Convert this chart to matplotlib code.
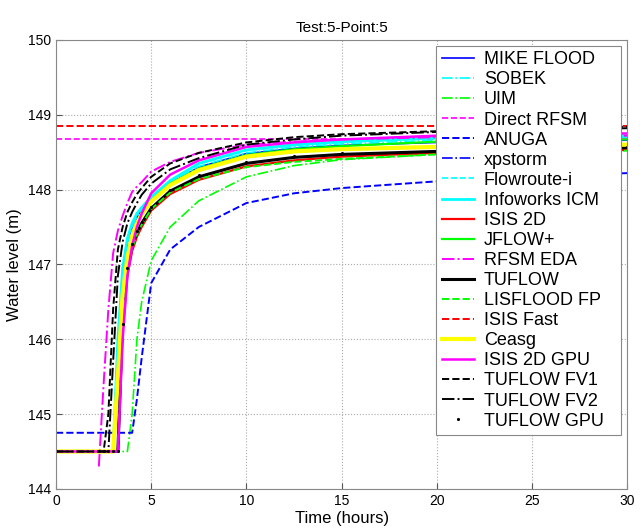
import numpy as np
import matplotlib
matplotlib.use('Agg')
import matplotlib.pyplot as plt

plt.rcParams['font.family'] = ['Liberation Sans', 'DejaVu Sans']

nan = np.nan

# Tempo comum (horas) em que as series foram lidas
t = [0, 2.25, 2.5, 2.75, 3.0, 3.25, 3.5, 3.75, 4.0, 4.25, 4.5, 5, 6, 7.5, 10, 12.5, 15, 20, 25, 30]

mike_flood = [144.5, 144.5, 144.5, 144.5, 144.5, 145.9, 146.85, 147.3, 147.5, 147.63, 147.72, 147.87, 148.08, 148.3, 148.48, 148.55, 148.59, 148.63, 148.65, 148.66]
sobek = [144.5, 144.5, 144.5, 144.5, 144.5, 145.9, 146.9, 147.3, 147.5, 147.64, 147.73, 147.88, 148.1, 148.31, 148.49, 148.57, 148.61, 148.66, 148.68, 148.7]
uim = [144.5, 144.5, 144.5, 144.5, 144.5, 144.5, 144.5, 144.5, 145.0, 146.0, 146.5, 147.05, 147.5, 147.85, 148.17, 148.32, 148.4, 148.47, 148.5, 148.52]
direct_rfsm = [148.67] * 20
anuga = [144.75, 144.75, 144.75, 144.75, 144.75, 144.75, 144.75, 144.75, 144.75, 145.2, 145.75, 146.75, 147.2, 147.5, 147.82, 147.95, 148.02, 148.11, 148.17, 148.22]
xpstorm = [144.5, 144.5, 144.5, 144.5, 144.5, 145.6, 146.7, 147.15, 147.42, 147.58, 147.69, 147.85, 148.06, 148.26, 148.43, 148.5, 148.54, 148.58, 148.6, 148.61]
flowroute = [144.5, 144.5, 144.5, 144.5, 144.5, 146.0, 146.95, 147.33, 147.54, 147.67, 147.75, 147.9, 148.11, 148.34, 148.52, 148.59, 148.63, 148.68, 148.7, 148.71]
infoworks = [144.5, 144.5, 144.5, 144.5, 144.5, 146.0, 146.95, 147.35, 147.55, 147.68, 147.76, 147.9, 148.12, 148.35, 148.53, 148.6, 148.64, 148.69, 148.71, 148.72]
isis_2d = [144.5, 144.5, 144.5, 144.5, 144.5, 144.5, 146.1, 146.85, 147.18, 147.37, 147.5, 147.72, 147.94, 148.13, 148.31, 148.39, 148.44, 148.49, 148.51, 148.53]
jflow = [144.5, 144.5, 144.5, 144.5, 144.5, 145.4, 146.5, 147.05, 147.35, 147.53, 147.66, 147.85, 148.08, 148.28, 148.46, 148.54, 148.58, 148.64, 148.66, 148.67]
rfsm_eda = [nan, 144.3, 145.4, 146.4, 147.15, 147.45, 147.65, 147.82, 147.97, 148.04, 148.1, 148.24, 148.37, 148.49, 148.6, 148.64, 148.67, 148.7, 148.71, 148.72]
tuflow = [144.5, 144.5, 144.5, 144.5, 144.5, 144.5, 146.3, 146.95, 147.25, 147.42, 147.55, 147.75, 147.98, 148.17, 148.35, 148.43, 148.47, 148.51, 148.54, 148.56]
lisflood = [144.5, 144.5, 144.5, 144.5, 144.5, 144.5, 146.2, 146.9, 147.22, 147.4, 147.53, 147.74, 147.96, 148.14, 148.3, 148.37, 148.41, 148.47, 148.5, 148.52]
isis_fast = [148.85] * 20
ceasg = [144.5, 144.5, 144.5, 144.5, 144.5, 145.5, 146.6, 147.1, 147.38, 147.55, 147.67, 147.84, 148.06, 148.26, 148.44, 148.51, 148.54, 148.57, 148.59, 148.6]
isis_gpu = [144.5, 144.5, 144.5, 144.5, 144.5, 144.5, 146.0, 146.85, 147.25, 147.5, 147.68, 147.95, 148.2, 148.39, 148.57, 148.63, 148.67, 148.72, 148.74, 148.75]
tuflow_fv1 = [144.5, 144.5, 144.5, 145.0, 146.4, 147.2, 147.5, 147.7, 147.83, 147.94, 148.02, 148.17, 148.35, 148.49, 148.63, 148.7, 148.74, 148.78, 148.81, 148.84]
tuflow_fv2 = [144.5, 144.5, 144.5, 144.5, 145.7, 146.85, 147.3, 147.55, 147.7, 147.82, 147.93, 148.08, 148.27, 148.42, 148.6, 148.67, 148.72, 148.77, 148.8, 148.82]
tuflow_gpu = [144.5, 144.5, 144.5, 144.5, 144.5, 144.5, 146.2, 146.95, 147.27, 147.45, 147.57, 147.77, 148.0, 148.19, 148.37, 148.45, 148.49, 148.53, 148.55, 148.57]

fig = plt.figure(figsize=(6.4, 5.32), dpi=100)
ax = fig.add_axes([0.0875, 0.081, 0.8925, 0.844])

# Cada modelo com sua cor e estilo de linha
ax.plot(t, mike_flood, '-', color='blue', lw=1.2, label='MIKE FLOOD')
ax.plot(t, sobek, '-.', color='cyan', lw=1.2, label='SOBEK')
ax.plot(t, uim, '-.', color='lime', lw=1.2, label='UIM')
ax.plot(t, direct_rfsm, '--', color='magenta', lw=1.2, label='Direct RFSM')
ax.plot(t, anuga, '--', color='blue', lw=1.4, label='ANUGA')
ax.plot(t, xpstorm, '-.', color='blue', lw=1.2, label='xpstorm')
ax.plot(t, flowroute, '--', color='cyan', lw=1.2, label='Flowroute-i')
ax.plot(t, infoworks, '-', color='cyan', lw=2.0, label='Infoworks ICM')
ax.plot(t, isis_2d, '-', color='red', lw=1.6, label='ISIS 2D')
ax.plot(t, jflow, '-', color='lime', lw=1.6, label='JFLOW+')
ax.plot(t, rfsm_eda, '-.', color='magenta', lw=1.4, label='RFSM EDA')
ax.plot(t, tuflow, '-', color='black', lw=2.2, label='TUFLOW')
ax.plot(t, lisflood, '--', color='lime', lw=1.4, label='LISFLOOD FP')
ax.plot(t, isis_fast, '--', color='red', lw=1.4, label='ISIS Fast')
ax.plot(t, ceasg, '-', color='yellow', lw=3.0, label='Ceasg')
ax.plot(t, isis_gpu, '-', color='magenta', lw=1.8, label='ISIS 2D GPU')
ax.plot(t, tuflow_fv1, '--', color='black', lw=1.4, label='TUFLOW FV1')
ax.plot(t, tuflow_fv2, '-.', color='black', lw=1.4, label='TUFLOW FV2')
ax.plot(t, tuflow_gpu, '.', color='black', markersize=2.5, label='TUFLOW GPU')

ax.set_xlim(0, 30)
ax.set_ylim(144, 150)
ax.set_xticks([0, 5, 10, 15, 20, 25, 30])
ax.set_yticks([144, 145, 146, 147, 148, 149, 150])
ax.tick_params(direction='in', labelsize=10, length=4, color='#555555')
for s in ax.spines.values():
    s.set_color('#888888')
    s.set_linewidth(0.8)
ax.grid(True, linestyle=':', color='#aaaaaa', linewidth=0.8)

ax.set_title('Test:5-Point:5', fontsize=11)
ax.set_xlabel('Time (hours)', fontsize=12, labelpad=2)
ax.set_ylabel('Water level (m)', fontsize=12, labelpad=4)

# Legenda com largura fixa, encostada no canto superior direito
leg = ax.legend(loc='upper left', bbox_to_anchor=(0.6655, 0.0, 0.324, 0.9866),
                mode='expand', borderaxespad=0.0, fontsize=13, fancybox=False,
                framealpha=1, edgecolor='#888888', labelspacing=0.17,
                handlelength=1.8, handletextpad=0.55, borderpad=0.3)
leg.get_frame().set_linewidth(0.8)

fig.savefig('out.png', dpi=100)
